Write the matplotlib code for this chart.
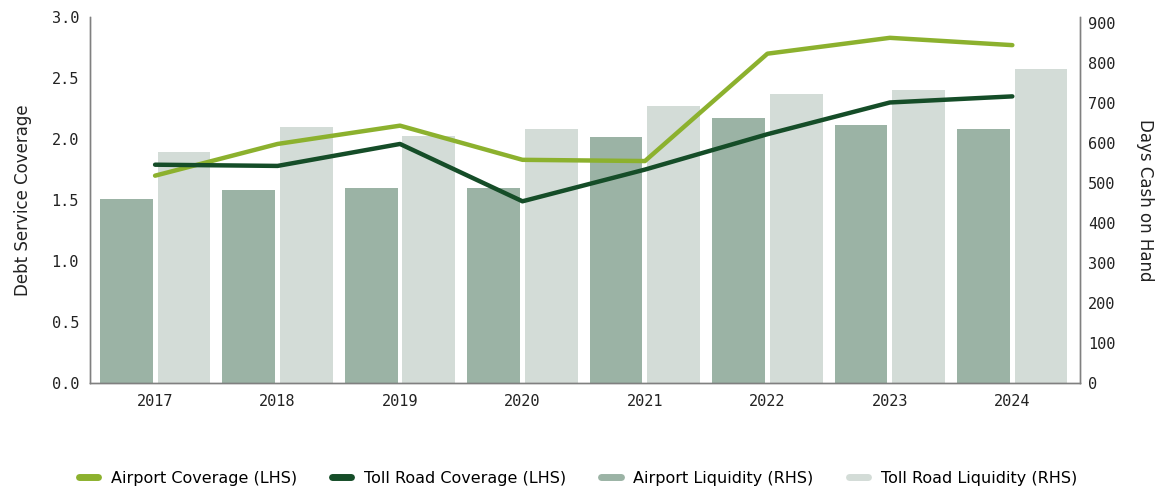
import numpy as np
import matplotlib
matplotlib.use("Agg")
import matplotlib.pyplot as plt
from matplotlib.lines import Line2D

years = ["2017", "2018", "2019", "2020", "2021", "2022", "2023", "2024"]
airport_cov = [1.70, 1.96, 2.11, 1.83, 1.82, 2.70, 2.83, 2.77]
toll_cov = [1.79, 1.78, 1.96, 1.49, 1.75, 2.04, 2.30, 2.35]
airport_liq = [461, 482, 487, 488, 616, 662, 644, 634]
toll_liq = [577, 640, 618, 634, 693, 722, 732, 785]

c_air_line = "#8cb12e"
c_toll_line = "#154d28"
c_air_bar = "#9bb3a5"
c_toll_bar = "#d3dcd7"
spine_c = "#808080"

fig = plt.figure(figsize=(11.56, 4.88), dpi=100)
ax = fig.add_axes([0.078, 0.215, 0.856, 0.75])
ax2 = ax.twinx()

x = np.arange(len(years))
w = 0.43
ax2.bar(x - w/2 - 0.02, airport_liq, w, color=c_air_bar)
ax2.bar(x + w/2 + 0.02, toll_liq, w, color=c_toll_bar)
ax2.set_ylim(0, 915)
ax2.set_yticks(range(0, 901, 100))

ax.plot(x, airport_cov, color=c_air_line, lw=3.2, solid_capstyle="round", solid_joinstyle="round")
ax.plot(x, toll_cov, color=c_toll_line, lw=3.2, solid_capstyle="round", solid_joinstyle="round")
ax.set_ylim(0, 3.0)
ax.set_yticks(np.arange(0, 3.01, 0.5))
ax.set_yticklabels(["%.1f" % v for v in np.arange(0, 3.01, 0.5)])
ax.set_xlim(-0.53, 7.55)
ax.set_xticks(x)
ax.set_xticklabels(years)

ax.set_zorder(ax2.get_zorder() + 1)
ax.patch.set_visible(False)

for a in (ax, ax2):
    a.spines["top"].set_visible(False)
    for s in ("left", "right", "bottom"):
        a.spines[s].set_color(spine_c)
        a.spines[s].set_linewidth(1.0)
    a.tick_params(length=0, labelsize=11, colors="#222222")
    for lab in a.get_xticklabels() + a.get_yticklabels():
        lab.set_family("DejaVu Sans Mono")
ax.tick_params(axis="x", pad=8)
ax.tick_params(axis="y", pad=8)
ax2.tick_params(axis="y", pad=6)

ax.set_ylabel("Debt Service Coverage", fontsize=12, color="#222222", labelpad=14)
ax2.set_ylabel("Days Cash on Hand", fontsize=12, color="#222222", rotation=270, labelpad=28)

handles = [
    Line2D([], [], color=c_air_line, lw=5, solid_capstyle="round"),
    Line2D([], [], color=c_toll_line, lw=5, solid_capstyle="round"),
    Line2D([], [], color=c_air_bar, lw=5, solid_capstyle="round"),
    Line2D([], [], color=c_toll_bar, lw=5, solid_capstyle="round"),
]
labels = ["Airport Coverage (LHS)", "Toll Road Coverage (LHS)",
          "Airport Liquidity (RHS)", "Toll Road Liquidity (RHS)"]
fig.legend(handles, labels, loc="center", bbox_to_anchor=(0.5, 0.02), ncol=4,
           frameon=False, fontsize=11.5, handlelength=1.2, columnspacing=2.2,
           handletextpad=0.8)

fig.savefig("out.png", dpi=100)
